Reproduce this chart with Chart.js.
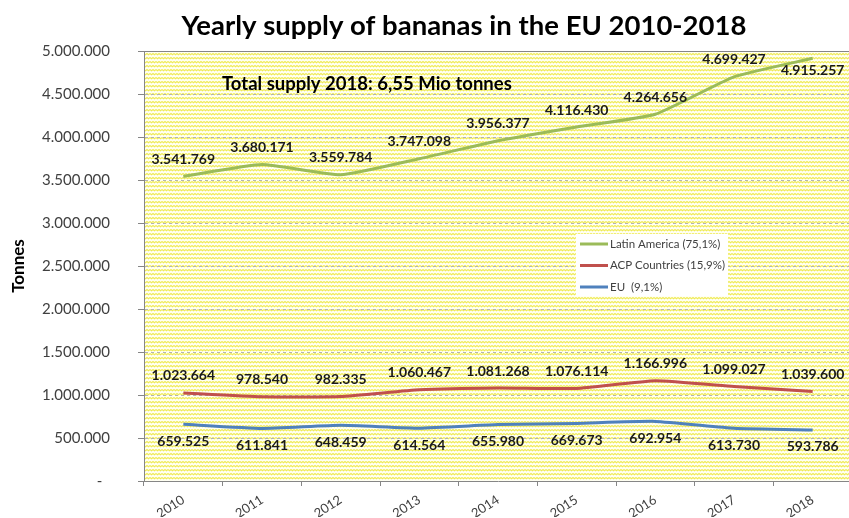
<!DOCTYPE html>
<html>
<head>
<meta charset="utf-8">
<script src="https://cdn.jsdelivr.net/npm/chart.js@4.4.1/dist/chart.umd.min.js"></script>
<style>
  html, body { margin: 0; padding: 0; background: #fff; overflow: hidden; }
</style>
</head>
<body>
<canvas id="bananaChart" width="852" height="518"></canvas>
<script>
// Datos
const years = ['2010', '2011', '2012', '2013', '2014', '2015', '2016', '2017', '2018'];
const latinAmerica = [3541769, 3680171, 3559784, 3747098, 3956377, 4116430, 4264656, 4699427, 4915257];
const acpCountries = [1023664, 978540, 982335, 1060467, 1081268, 1076114, 1166996, 1099027, 1039600];
const euSupply = [659525, 611841, 648459, 614564, 655980, 669673, 692954, 613730, 593786];
const seriesNames = ['Latin America (75,1%)', 'ACP Countries (15,9%)', 'EU  (9,1%)'];
const chartTitle = 'Yearly supply of bananas in the EU 2010-2018';
const totalNote = 'Total supply 2018: 6,55 Mio tonnes';
const yMax = 5000000;
const yStep = 500000;

function fmt(v) {
    return String(Math.round(v)).replace(/\B(?=(\d{3})+(?!\d))/g, '.');
}

// Fondo amarillo rayado del área de trazado
function makeHatch(ctx) {
    const c = document.createElement('canvas');
    c.width = 6; c.height = 4;
    const g = c.getContext('2d');
    g.fillStyle = '#fffff4';
    g.fillRect(0, 0, 6, 4);
    g.strokeStyle = '#efea55';
    g.lineWidth = 1.1;
    g.beginPath();
    g.moveTo(0, 1.5); g.lineTo(1.5, 2.7); g.lineTo(3, 1.5); g.lineTo(4.5, 2.7); g.lineTo(6, 1.5);
    g.stroke();
    return ctx.createPattern(c, 'repeat');
}

const plotBackground = {
    id: 'plotBackground',
    beforeDraw(chart) {
        const { ctx, chartArea: a } = chart;
        ctx.save();
        ctx.fillStyle = makeHatch(ctx);
        ctx.fillRect(a.left, a.top, a.right - a.left, a.bottom - a.top);
        ctx.restore();
    }
};

const extras = {
    id: 'extras',
    afterDatasetsDraw(chart) {
        const { ctx, chartArea: a } = chart;
        ctx.save();
        // borde superior
        ctx.strokeStyle = '#868686';
        ctx.lineWidth = 1;
        ctx.beginPath();
        ctx.moveTo(a.left, a.top + 0.5);
        ctx.lineTo(a.right, a.top + 0.5);
        ctx.stroke();

        // etiquetas de datos
        ctx.font = 'bold 14px Lato';
        ctx.fillStyle = '#1a1a1a';
        ctx.textAlign = 'center';
        ctx.textBaseline = 'middle';
        chart.data.datasets.forEach((ds, i) => {
            const meta = chart.getDatasetMeta(i);
            meta.data.forEach((pt, j) => {
                const shift = ds.labelShift[j] !== undefined ? ds.labelShift[j] : ds.labelShift.base;
                ctx.fillText(fmt(ds.data[j]), pt.x, pt.y + shift);
            });
        });

        // título
        ctx.font = 'bold 27.5px Lato';
        ctx.fillStyle = '#000';
        ctx.fillText(chartTitle, 464, 26);

        // nota total
        ctx.font = 'bold 18.5px Lato';
        ctx.textAlign = 'left';
        ctx.fillText(totalNote, a.left + 78, chart.scales.y.getPixelForValue(4620000));

        // leyenda
        ctx.fillStyle = '#ffffff';
        ctx.fillRect(576, 234, 152, 62);
        ctx.font = '11.5px Lato';
        ctx.lineWidth = 3;
        chart.data.datasets.forEach((ds, i) => {
            const y = 244 + i * 21.5;
            ctx.strokeStyle = ds.borderColor;
            ctx.beginPath();
            ctx.moveTo(580, y);
            ctx.lineTo(608, y);
            ctx.stroke();
            ctx.fillStyle = '#404040';
            ctx.fillText(ds.label, 610, y);
        });
        ctx.restore();
    }
};

const ctx = document.getElementById('bananaChart').getContext('2d');
new Chart(ctx, {
    type: 'line',
    data: {
        labels: years,
        datasets: [{
            label: seriesNames[0],
            data: latinAmerica,
            borderColor: '#9bbb59',
            labelShift: { base: -17, 8: 12 }
        }, {
            label: seriesNames[1],
            data: acpCountries,
            borderColor: '#c0504d',
            labelShift: { base: -17 }
        }, {
            label: seriesNames[2],
            data: euSupply,
            borderColor: '#4f81bd',
            labelShift: { base: 17 }
        }]
    },
    options: {
        responsive: false,
        animation: false,
        layout: { padding: { top: 51, right: 0, bottom: 0, left: 0 } },
        elements: {
            line: { borderWidth: 3, tension: 0.15, fill: false },
            point: { radius: 0 }
        },
        plugins: {
            legend: { display: false },
            title: { display: false },
            tooltip: { enabled: false }
        },
        scales: {
            x: {
                offset: true,
                grid: {
                    offset: true,
                    drawOnChartArea: false,
                    tickLength: 5,
                    tickColor: '#868686'
                },
                border: { color: '#868686' },
                ticks: {
                    maxRotation: 33,
                    minRotation: 33,
                    padding: 6,
                    color: '#404040',
                    font: { family: 'Lato', size: 13 }
                },
                afterFit(scale) { scale.height = 36; }
            },
            y: {
                min: 0,
                max: yMax,
                ticks: {
                    stepSize: yStep,
                    padding: 28,
                    color: '#404040',
                    font: { family: 'Lato', size: 15 },
                    callback: (v) => v === 0 ? '-  ' : fmt(v)
                },
                grid: {
                    color: '#b4b4b4',
                    tickLength: 6,
                    tickColor: '#868686'
                },
                border: { color: '#868686', dash: [3, 3] },
                title: {
                    display: true,
                    text: 'Tonnes',
                    color: '#000',
                    font: { family: 'Lato', size: 17, weight: 'bold' },
                    padding: { top: 8, bottom: 0 }
                },
                afterFit(scale) { scale.width = 144; }
            }
        }
    },
    plugins: [plotBackground, extras]
});
</script>
</body>
</html>
